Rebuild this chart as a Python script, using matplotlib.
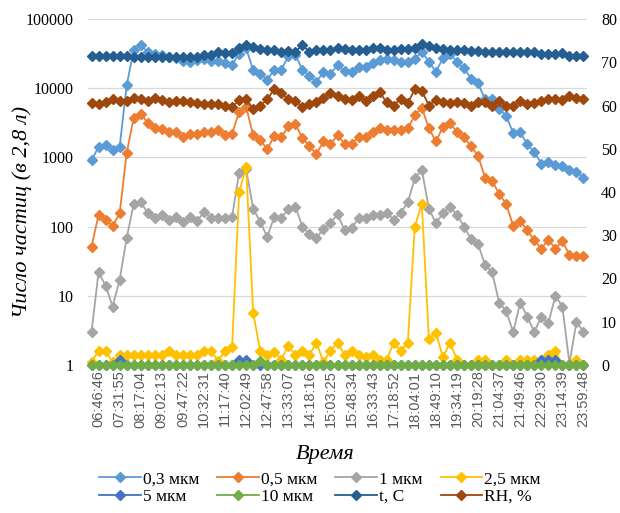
import numpy as np
import matplotlib
matplotlib.use('Agg')
import matplotlib.pyplot as plt
from matplotlib.ticker import FixedLocator, NullLocator

# tick labels (every 3rd measurement, starting from the 2nd)
time_labels = ['06:46:46', '07:31:55', '08:17:04', '09:02:13', '09:47:22', '10:32:31',
               '11:17:40', '12:02:49', '12:47:58', '13:33:07', '14:18:16', '15:03:25',
               '15:48:34', '16:33:43', '17:18:52', '18:04:01', '18:49:10', '19:34:19',
               '20:19:28', '21:04:37', '21:49:46', '22:29:30', '23:14:39', '23:59:48']

# particle counts (left, log axis)
p03 = [910, 1410, 1510, 1290, 1410, 10960, 35500, 41700, 33100, 31600,
       30200, 28200, 26900, 25100, 24000, 25700, 26300, 24500, 25100, 23400,
       21900, 31600, 38000, 18200, 16200, 13200, 18600, 18600, 28800, 30200,
       18600, 14800, 12300, 17000, 16200, 21400, 17800, 17400, 20000, 20400,
       23400, 25700, 26300, 25700, 24000, 24000, 26300, 33900, 24000, 17400,
       26900, 31600, 24000, 19500, 13800, 11700, 6900, 6900, 5000, 4000,
       2240, 2290, 1550, 1200, 810, 850, 780, 740, 660, 620, 510]
p05 = [51, 148, 126, 102, 155, 1150, 3720, 4270, 3160, 2690,
       2570, 2340, 2340, 2000, 2190, 2190, 2340, 2340, 2510, 2090,
       2190, 4570, 5370, 2090, 1780, 1320, 2040, 1950, 2820, 3020,
       1910, 1450, 1120, 1700, 1550, 2090, 1580, 1580, 1950, 2000,
       2340, 2630, 2510, 2510, 2510, 2630, 4070, 5250, 2630, 1700,
       2750, 3090, 2340, 1950, 1450, 1050, 510, 460, 295, 214,
       102, 120, 89, 63, 48, 65, 48, 62, 39, 37, 37]
p1 = [3, 22, 14, 7, 17, 68, 214, 224, 158, 132,
      148, 126, 138, 117, 138, 120, 162, 135, 135, 132,
      138, 603, 676, 182, 117, 71, 138, 135, 178, 195,
      100, 78, 68, 93, 112, 151, 89, 95, 132, 135,
      148, 145, 158, 126, 158, 224, 501, 661, 182, 112,
      155, 195, 148, 100, 66, 56, 28, 22, 8, 6,
      3, 8, 5, 3, 5, 4, 10, 7, 1.05, 4.2, 3]
p25 = [1.1, 1.6, 1.6, 1.1, 1.4, 1.4, 1.4, 1.4, 1.4, 1.4,
       1.4, 1.6, 1.4, 1.4, 1.4, 1.4, 1.6, 1.6, 1.15, 1.6,
       1.8, 315, 720, 5.7, 1.6, 1.4, 1.55, 1.2, 1.9, 1.4,
       1.6, 1.4, 2.1, 1.1, 1.6, 2.1, 1.4, 1.6, 1.4, 1.3,
       1.4, 1.2, 1.2, 2.1, 1.6, 2.1, 100, 215, 2.4, 2.9,
       1.3, 2.1, 1.2, 1.0, 1.0, 1.2, 1.2, 1.0, 1.0, 1.2,
       1.0, 1.2, 1.2, 1.2, 1.2, 1.4, 1.6, 1.0, 1.0, 1.2, 1.0]
p5 = [1, 1, 1, 1, 1.2, 1, 1, 1, 1, 1,
      1, 1, 1, 1, 1, 1, 1, 1, 1, 1,
      1, 1.2, 1.2, 1, 1, 1, 1, 1, 1, 1,
      1, 1, 1, 1, 1, 1, 1, 1, 1, 1,
      1, 1, 1, 1, 1, 1, 1, 1, 1, 1,
      1, 1, 1, 1, 1, 1, 1, 1, 1, 1,
      1, 1, 1, 1, 1.2, 1.2, 1.2, 1, 1, 1, 1]
p10 = [1, 1, 1, 1, 1, 1, 1, 1, 1, 1,
       1, 1, 1, 1, 1, 1, 1, 1, 1, 1,
       1, 1, 1, 1, 1.15, 1, 1, 1, 1, 1,
       1, 1, 1, 1, 1, 1, 1, 1, 1, 1,
       1, 1, 1, 1, 1, 1, 1, 1, 1, 1,
       1, 1, 1, 1, 1, 1, 1, 1, 1, 1,
       1, 1, 1, 1, 1, 1, 1, 1, 1, 1, 1]

# temperature and humidity (right axis)
temp = [71.4, 71.4, 71.4, 71.4, 71.4, 71.4, 71.2, 71.2, 71.2, 71.2,
        71.2, 71.2, 71.2, 71.2, 71.3, 71.3, 71.7, 71.7, 72.4, 72.1,
        72.1, 73.2, 74.0, 73.6, 73.0, 72.8, 72.8, 72.4, 72.6, 72.4,
        74.0, 72.4, 72.8, 72.8, 72.8, 73.4, 73.0, 72.8, 72.8, 72.8,
        73.4, 73.2, 72.8, 72.8, 73.0, 73.0, 73.4, 74.2, 73.8, 73.4,
        73.0, 72.8, 72.8, 72.8, 72.7, 72.7, 72.4, 72.4, 72.4, 72.4,
        72.4, 72.4, 72.4, 72.4, 71.9, 71.9, 71.9, 72.1, 71.4, 71.4, 71.4]
rh = [60.5, 60.3, 60.8, 61.4, 61.0, 61.0, 61.8, 61.6, 61.0, 61.8,
      61.2, 60.8, 61.0, 61.0, 60.8, 60.6, 60.4, 60.3, 60.3, 60.0,
      59.7, 61.2, 61.4, 59.3, 60.0, 61.4, 63.8, 63.0, 61.4, 61.0,
      59.7, 60.3, 60.8, 61.8, 62.8, 62.2, 61.4, 61.3, 62.1, 61.1,
      62.2, 63.1, 60.7, 60.0, 61.6, 60.5, 63.8, 63.4, 60.0, 61.3,
      60.8, 60.5, 60.8, 60.5, 60.0, 60.8, 60.7, 60.0, 61.1, 60.0,
      59.9, 61.1, 60.3, 60.5, 61.1, 61.6, 61.4, 61.2, 62.1, 61.8, 61.4]

x = np.arange(len(p03))

fig = plt.figure(figsize=(6.2, 5.13), dpi=100)
ax1 = fig.add_axes([88 / 620, 1 - 365 / 513, (587 - 88) / 620, (365 - 19) / 513])
ax2 = ax1.twinx()

kw = dict(marker='D', markersize=4.8, linewidth=1.3, clip_on=False)
h = []
h += ax1.plot(x, p03, color='#5B9BD5', label='0,3 мкм', **kw)
h += ax1.plot(x, p05, color='#ED7D31', label='0,5 мкм', **kw)
h += ax1.plot(x, p1, color='#A5A5A5', label='1 мкм', **kw)
h += ax1.plot(x, p25, color='#FFC000', label='2,5 мкм', **kw)
h += ax1.plot(x, p5, color='#4472C4', label='5 мкм', **kw)
h += ax1.plot(x, p10, color='#70AD47', label='10 мкм', **kw)
h += ax2.plot(x, temp, color='#255E91', label='t, C', **kw)
h += ax2.plot(x, rh, color='#9E480E', label='RH, %', **kw)

ax1.set_yscale('log')
ax1.set_ylim(1, 100000)
ax1.yaxis.set_major_locator(FixedLocator([1, 10, 100, 1000, 10000, 100000]))
ax1.yaxis.set_minor_locator(NullLocator())
ax1.set_yticklabels(['1', '10', '100', '1000', '10000', '100000'])
ax1.grid(axis='y', color='#D9D9D9', linewidth=0.9)
ax1.set_axisbelow(True)

ax2.set_ylim(0, 80)
ax2.set_yticks(range(0, 81, 10))

ax1.set_xlim(-0.5, len(x) - 0.5)
ax1.set_xticks(x[1::3])
ax1.set_xticklabels(time_labels, rotation=90, fontsize=10.5,
                    family='Liberation Sans', color='#595959')

serif = 'Liberation Serif'
for ax in (ax1, ax2):
    for s in ax.spines.values():
        s.set_visible(False)
    ax.tick_params(length=0)
ax1.tick_params(axis='x', pad=4)
ax1.tick_params(axis='y', pad=10)
ax2.tick_params(axis='y', pad=10)
for lab in ax1.get_yticklabels() + ax2.get_yticklabels():
    lab.set_family(serif)
    lab.set_fontsize(11.5)

fig.text(22 / 620, 1 - 212 / 513, 'Число частиц (в 2,8 л)', rotation=90,
         ha='center', va='center', family=serif, style='italic', fontsize=16)
fig.text(325 / 620, 1 - 455 / 513, 'Время', ha='center', va='center',
         family=serif, style='italic', fontsize=16)

order = [0, 4, 1, 5, 2, 6, 3, 7]
fig.legend([h[i] for i in order], [h[i].get_label() for i in order],
           loc='center', bbox_to_anchor=(320 / 620, 1 - 488 / 513), ncol=4,
           frameon=False, prop={'family': serif, 'size': 12.5},
           handlelength=2.4, handletextpad=0.1, columnspacing=1.05,
           labelspacing=0.05, borderpad=0)

fig.savefig('out.png', dpi=100)
